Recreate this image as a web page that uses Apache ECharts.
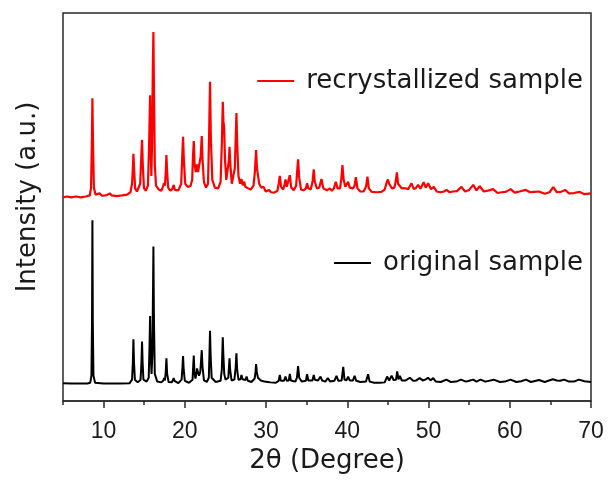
<!DOCTYPE html>
<html>
<head>
<meta charset="utf-8">
<script src="https://cdn.jsdelivr.net/npm/echarts@6/dist/echarts.min.js"></script>
<style>html,body{margin:0;padding:0;background:#fff;}#chart{width:608px;height:480px;}</style>
</head>
<body>
<div id="chart"></div>
<script>
// x tick labels (2θ, degree)
var majorTicks = [10, 20, 30, 40, 50, 60, 70];
var minorTicks = [5, 15, 25, 35, 45, 55, 65];
var seriesNames = ['original sample', 'recrystallized sample'];

// original sample pattern: [2θ, intensity (a.u.)]
var originalPattern = [
[5,4.6],[6,4.5],[7,4.5],[8,4.5],[8.35,4.7],[8.5,6.5],[8.57,20],[8.62,46.6],[8.67,20],[8.75,6.5],[8.95,4.7],[10,4.5],[11,4.5],[12,4.5],
[13.2,4.6],[13.5,5.5],[13.6,10],[13.67,15.9],[13.74,10],[13.85,5.5],[14.2,4.8],[14.55,5.5],[14.66,10],[14.73,15.3],[14.8,10],[14.9,5.5],
[15.3,5],[15.55,6],[15.65,14],[15.72,21.9],[15.8,12],[15.9,7],[16.0,12],[16.08,28],[16.13,39.8],[16.19,22],[16.3,7],[16.6,5],
[17.1,4.8],[17.35,5.3],[17.44,5.9],[17.55,5.3],[17.65,7.5],[17.73,11.0],[17.82,7.0],[18.0,4.9],[18.4,4.8],[18.55,5.3],[18.63,5.9],[18.72,5.2],
[19.2,4.6],[19.6,5.5],[19.7,8.5],[19.78,11.6],[19.86,8],[20.0,5.2],[20.5,4.7],[20.95,5.5],[21.03,9],[21.1,11.7],[21.18,7.5],[21.3,5.8],
[21.42,7],[21.5,8.4],[21.6,7.5],[21.75,6.5],[21.9,7.5],[22.0,10.5],[22.08,13.1],[22.17,9],[22.35,5.3],[22.7,4.9],[22.95,6],[23.03,12],
[23.1,18.1],[23.17,12],[23.3,6],[23.8,4.9],[24.4,5.2],[24.55,8],[24.62,13],[24.67,16.4],[24.74,12],[24.85,7],[25.0,5.5],[25.35,6],
[25.44,9],[25.5,11.0],[25.58,8],[25.75,5.3],[26.1,5.5],[26.25,8.5],[26.35,12.3],[26.44,8],[26.6,5.5],[26.85,5.6],[26.97,6.7],[27.1,5.6],
[27.3,5.5],[27.45,5.4],[27.6,6.3],[27.75,5.2],[28.2,4.9],[28.6,5.8],[28.7,7.5],[28.77,9.5],[28.86,7.5],[29.0,6],[29.2,6.3],[29.35,5.3],
[29.8,5.0],[30.2,4.9],[30.37,5.3],[30.55,4.8],[31.2,4.7],[31.55,5.2],[31.69,6.7],[31.82,5.2],[32.2,5.2],[32.39,6.3],[32.55,5.2],[32.8,5.3],
[32.92,7.0],[33.05,5.3],[33.6,5.0],[33.8,6],[33.94,9.0],[34.08,6],[34.4,5.0],[34.9,5.2],[35.05,6.9],[35.2,5.3],[35.7,5.3],[35.87,6.7],
[36.0,5.5],[36.4,5.3],[36.7,6.3],[36.9,5.3],[37.3,5.0],[37.6,5.9],[37.9,5.0],[38.4,5.2],[38.67,6.5],[38.9,5.2],[39.3,5.3],[39.5,8.8],
[39.65,5.5],[39.9,5.3],[40.1,6.3],[40.3,5.3],[40.7,5.3],[40.9,6.5],[41.1,5.2],[41.6,4.9],[42.3,5.0],[42.56,6.9],[42.75,5.0],[43.3,4.7],
[44.0,4.7],[44.6,4.8],[44.9,6.3],[45.15,5.3],[45.45,6.5],[45.7,5.4],[46.0,5.5],[46.14,7.6],[46.3,5.6],[46.47,6.5],[46.7,5.3],[47.2,5.3],
[47.7,6.0],[48.1,5.2],[48.5,5.3],[48.9,5.9],[49.3,5.3],[49.6,5.5],[49.95,6.0],[50.25,5.3],[50.57,5.9],[50.9,5.0],[51.5,4.9],[52.2,5.5],
[52.7,4.9],[53.4,5.0],[54.0,5.5],[54.6,5.0],[55.0,5.2],[55.5,5.5],[55.9,5.0],[56.4,5.5],[57.0,5.0],[58.0,5.5],[58.8,4.9],[59.4,5.0],
[60.1,5.5],[60.8,4.9],[61.4,5.1],[62.0,5.5],[62.6,4.9],[63.6,5.4],[64.3,4.9],[65.3,5.6],[65.8,5.3],[66.2,5.2],[66.7,5.5],[67.3,5.0],
[67.9,5.0],[68.5,5.5],[69.2,5.1],[70,4.9]
];

// recrystallized sample pattern: [2θ, intensity (a.u.)], drawn stacked above the original
var recrystallizedPattern = [
[5,4.5],[5.5,4.7],[6,4.5],[6.6,4.7],[7.2,4.5],[7.8,4.7],[8.3,5.0],[8.45,7],[8.55,18],[8.62,30.0],[8.7,18],[8.8,7],[9.0,5.2],[9.5,5.5],
[9.8,4.9],[10.3,5.0],[10.75,5.5],[11.0,5.0],[11.6,4.8],[12.3,5.0],[12.9,5.2],[13.3,5.8],[13.5,8],[13.6,12],[13.67,15.7],[13.75,12],
[13.88,6.8],[14.1,6.0],[14.3,6.3],[14.5,8],[14.62,14],[14.73,19.3],[14.82,13],[14.97,6.8],[15.2,6.2],[15.45,7.5],[15.6,18],[15.72,30.8],
[15.8,17],[15.88,10],[15.96,18],[16.06,38],[16.13,47.1],[16.2,32],[16.3,13],[16.45,7.5],[16.8,6.5],[17.1,6.2],[17.3,7.2],[17.44,8.2],
[17.55,7.5],[17.65,11],[17.73,15.4],[17.82,11],[17.95,7.0],[18.2,6.2],[18.45,6.6],[18.63,7.7],[18.78,6.4],[19.2,6.3],[19.55,8],[19.68,15],
[19.78,20.1],[19.88,14],[20.05,8],[20.35,7.2],[20.7,7.4],[20.9,9],[21.0,15],[21.1,19.0],[21.2,13],[21.35,11],[21.5,13.0],[21.62,11],
[21.72,10.5],[21.84,11.5],[21.95,15],[22.08,20.3],[22.18,14],[22.35,8.5],[22.6,7.0],[22.85,8],[22.98,20],[23.1,34.3],[23.2,20],[23.38,9],
[23.7,7.0],[24.1,6.8],[24.4,8.5],[24.55,18],[24.67,29.1],[24.75,24],[24.83,22.7],[24.95,14],[25.1,9],[25.3,9.5],[25.42,14],[25.5,17.5],
[25.6,13],[25.78,8],[26.0,7.5],[26.15,12],[26.25,19],[26.35,26.2],[26.45,18],[26.6,10],[26.8,8],[26.97,9.2],[27.12,7.6],[27.3,8.5],
[27.45,7.2],[27.6,7.7],[27.8,6.8],[28.1,6.5],[28.45,7.5],[28.62,11],[28.77,16.7],[28.88,12],[28.98,11.5],[29.15,8],[29.4,7.0],[29.7,7.2],
[29.95,6.0],[30.15,5.9],[30.37,6.4],[30.6,5.8],[31.0,5.7],[31.4,6.2],[31.55,8],[31.69,10.0],[31.85,7.2],[32.1,6.5],[32.25,7.5],[32.39,9.1],
[32.55,7.2],[32.75,7.5],[32.92,10.2],[33.1,7],[33.4,6.3],[33.7,7.5],[33.82,11],[33.94,14.3],[34.08,9.5],[34.3,6.5],[34.6,6.3],[34.9,6.8],
[35.05,8.1],[35.2,6.8],[35.5,6.5],[35.72,8.5],[35.87,11.7],[36.0,8.5],[36.25,6.8],[36.55,7],[36.82,9.2],[37.05,6.8],[37.5,6.3],[37.85,6.8],
[38.1,6.2],[38.35,6.8],[38.58,8.5],[38.8,6.8],[39.1,6.8],[39.25,9],[39.4,12.8],[39.55,9],[39.75,7.2],[40.1,8.5],[40.3,7],[40.5,7.4],
[40.7,6.8],[40.9,7.5],[41.05,9.7],[41.25,6.8],[41.6,6.0],[42.0,6.0],[42.3,7.2],[42.48,9.8],[42.65,6.8],[43.0,5.9],[43.6,5.8],[44.2,5.9],
[44.6,6.5],[44.8,8],[45.0,9.1],[45.15,8.0],[45.3,8.5],[45.5,6.8],[45.8,7],[45.95,8.5],[46.1,10.9],[46.25,8],[46.47,8.1],[46.7,6.8],
[47.0,6.9],[47.2,7.4],[47.5,6.6],[47.9,8.1],[48.2,6.6],[48.45,6.9],[48.72,7.7],[49.0,6.7],[49.2,7.0],[49.4,8.4],[49.65,7.0],[49.95,8.1],
[50.3,6.6],[50.65,7.2],[51.0,6.0],[51.5,5.8],[51.9,6.0],[52.2,6.4],[52.6,5.8],[53.0,6.0],[53.5,6.1],[54.05,7.2],[54.5,6.0],[55.0,6.4],
[55.5,7.7],[55.9,6.3],[56.3,7.4],[56.8,6.0],[57.3,6.2],[57.95,6.6],[58.5,5.6],[59.0,5.8],[59.5,5.9],[60.1,6.6],[60.6,5.7],[61.2,6.0],
[61.98,6.4],[62.5,5.8],[63.0,5.9],[63.6,6.0],[64.3,5.4],[64.9,5.8],[65.35,7.1],[65.8,5.8],[66.3,5.9],[66.8,6.4],[67.3,5.5],[67.9,5.6],
[68.6,5.9],[69.2,5.3],[70,5.5]
];
var recrystallizedOffset = 48;

var chart = echarts.init(document.getElementById('chart'), null, {renderer: 'canvas'});
var axisColor = '#2b2b2b';
var textColor = '#1a1a1a';
var option = {
  animation: false,
  backgroundColor: '#ffffff',
  grid: {left: 63, right: 17, top: 13, bottom: 79, show: true, borderColor: axisColor, borderWidth: 1.5, backgroundColor: 'transparent'},
  legend: [
    {data: [seriesNames[1]], right: 20, top: 63, itemWidth: 37, itemHeight: 14, icon: 'path://M0,6 L37,6 L37,8 L0,8 Z',
     textStyle: {fontFamily: 'DejaVu Sans', fontSize: 26, color: textColor, padding: [0, 0, 0, 7]}},
    {data: [seriesNames[0]], right: 20, top: 245, itemWidth: 37, itemHeight: 14, icon: 'path://M0,6 L37,6 L37,8 L0,8 Z',
     textStyle: {fontFamily: 'DejaVu Sans', fontSize: 26, color: textColor, padding: [0, 0, 0, 7]}}
  ],
  xAxis: [
    {type: 'value', min: 5, max: 70, interval: 5, position: 'bottom',
     name: '2θ (Degree)', nameLocation: 'middle', nameGap: 44,
     nameTextStyle: {fontFamily: 'DejaVu Sans', fontSize: 26, color: textColor},
     axisLine: {show: true, lineStyle: {color: axisColor, width: 1.5}},
     axisTick: {show: true, inside: false, length: 7, customValues: majorTicks, lineStyle: {color: axisColor, width: 1.5}},
     axisLabel: {show: true, customValues: majorTicks, margin: 19, fontFamily: 'Liberation Sans', fontSize: 23, color: textColor},
     splitLine: {show: false}},
    {type: 'value', min: 5, max: 70, interval: 5, position: 'bottom', gridIndex: 0,
     axisLine: {show: false},
     axisTick: {show: true, inside: false, length: 4, customValues: minorTicks, lineStyle: {color: axisColor, width: 1.5}},
     axisLabel: {show: false},
     splitLine: {show: false}}
  ],
  yAxis: {type: 'value', min: 0, max: 100,
    name: 'Intensity (a.u.)', nameLocation: 'middle', nameGap: 22,
    nameTextStyle: {fontFamily: 'DejaVu Sans', fontSize: 26, color: textColor, padding: [0, 0, 0, 20]},
    axisLine: {show: false}, axisTick: {show: false}, axisLabel: {show: false}, splitLine: {show: false}},
  series: [
    {name: seriesNames[0], type: 'line', xAxisIndex: 0, symbol: 'none', data: originalPattern,
     lineStyle: {color: '#000000', width: 2}, itemStyle: {color: '#000000'}},
    {name: seriesNames[1], type: 'line', xAxisIndex: 0, symbol: 'none',
     data: recrystallizedPattern.map(function (p) { return [p[0], p[1] + recrystallizedOffset]; }),
     lineStyle: {color: '#ff0000', width: 2.2}, itemStyle: {color: '#ff0000'}}
  ]
};
chart.setOption(option);
</script>
</body>
</html>
